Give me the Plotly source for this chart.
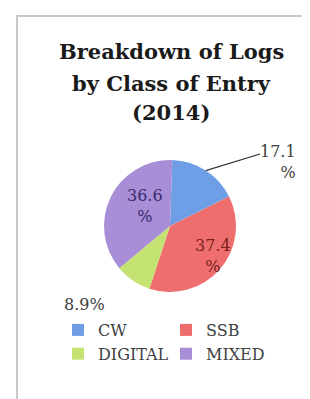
import math
import plotly.graph_objects as go

categories = ["CW", "SSB", "DIGITAL", "MIXED"]
shares = [17.1, 37.4, 8.9, 36.6]
title_lines = ["Breakdown of Logs", "by Class of Entry", "(2014)"]

colors = ["#6E9FE6", "#EE6E6E", "#C5E373", "#A88ED6"]
label_colors = ["#404040", "#7A1E1E", "#404040", "#3A2A6E"]
# label anchor (pixels from top-left), anchor side, whether percent sign wraps
label_xy = [(290, 154), (205, 248), (76, 296), (137, 198)]
label_anchor = ["right", "center", "center", "center"]
label_wrap = [True, True, False, True]

W, H = 310, 399
cx, cy, r = 162, 218, 66
rotation = 2


def px(x):
    return x / W


def py(y):
    return 1 - y / H


fig = go.Figure()
fig.add_trace(go.Pie(
    labels=categories,
    values=shares,
    sort=False,
    direction="clockwise",
    rotation=rotation,
    marker=dict(colors=colors, line=dict(width=0)),
    textinfo="none",
    domain=dict(x=[px(cx - r), px(cx + r)], y=[py(cy + r), py(cy - r)]),
    automargin=False,
    hoverinfo="skip",
))

annotations = []
title_y = [43, 75, 105]
for line, yy in zip(title_lines, title_y):
    annotations.append(dict(
        text="<b>" + line + "</b>", x=px(163), y=py(yy), xref="paper", yref="paper",
        xanchor="center", yanchor="middle", showarrow=False,
        font=dict(family="DejaVu Serif", size=21, color="#1a1a1a"),
    ))

for v, (lx, ly), anc, wrap, col in zip(shares, label_xy, label_anchor, label_wrap, label_colors):
    txt = f"{v:.1f}<br>%" if wrap else f"{v:.1f}%"
    annotations.append(dict(
        text=txt, x=px(lx), y=py(ly), xref="paper", yref="paper",
        xanchor=anc, yanchor="middle", align=anc,
        showarrow=False,
        font=dict(family="DejaVu Serif", size=16, color=col),
    ))

# leader line for the CW label: starts on the rim at the slice's mid-angle
total = sum(shares)
mid = math.radians(rotation + 360 * (shares[0] / 2) / total)
rim_x = cx + r * math.sin(mid)
rim_y = cy - r * math.cos(mid)

shapes = [
    dict(type="rect", xref="paper", yref="paper",
         x0=px(9), x1=px(305), y0=-0.05, y1=py(8),
         line=dict(color="#C8C8C8", width=2)),
    dict(type="line", xref="paper", yref="paper",
         x0=px(rim_x), y0=py(rim_y), x1=px(252), y1=py(146),
         line=dict(color="#333333", width=1.3)),
]

fig.update_layout(
    width=W, height=H,
    margin=dict(l=0, r=0, t=0, b=0),
    paper_bgcolor="white",
    plot_bgcolor="white",
    annotations=annotations,
    shapes=shapes,
    showlegend=True,
    legend=dict(
        orientation="h", x=px(50), y=py(305), xanchor="left", yanchor="top",
        entrywidth=63, entrywidthmode="pixels",
        bgcolor="rgba(0,0,0,0)",
        font=dict(family="DejaVu Serif", size=16, color="#404040"),
        traceorder="normal",
    ),
)

fig.write_html("out.html")
